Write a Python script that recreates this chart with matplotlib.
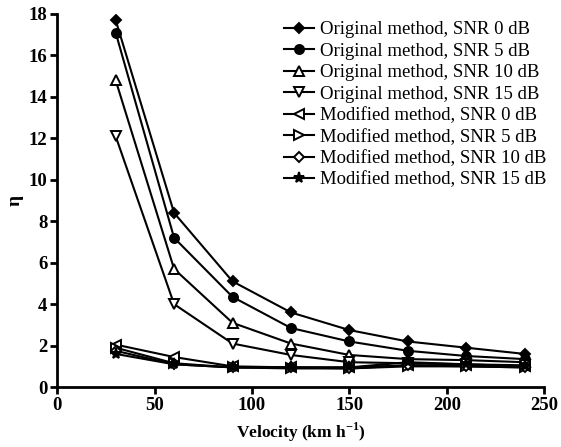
import matplotlib
matplotlib.use('Agg')
import matplotlib.pyplot as plt

plt.rcParams['font.family'] = ['Liberation Serif', 'DejaVu Serif']
plt.rcParams['font.weight'] = 'bold'
plt.rcParams['mathtext.fontset'] = 'custom'
plt.rcParams['mathtext.rm'] = 'Liberation Serif:bold'

velocity = [30, 60, 90, 120, 150, 180, 210, 240]

orig_0 = [17.7, 8.4, 5.1, 3.6, 2.75, 2.2, 1.9, 1.6]
orig_5 = [17.1, 7.2, 4.35, 2.85, 2.2, 1.75, 1.5, 1.35]
orig_10 = [14.8, 5.7, 3.1, 2.1, 1.55, 1.35, 1.3, 1.2]
orig_15 = [12.1, 4.0, 2.1, 1.55, 1.2, 1.15, 1.1, 1.05]
mod_0 = [2.05, 1.45, 1.0, 0.95, 0.95, 1.05, 1.05, 1.0]
mod_5 = [1.9, 1.15, 0.95, 0.9, 0.9, 1.0, 1.0, 0.95]
mod_10 = [1.75, 1.1, 0.95, 0.95, 0.9, 1.05, 1.0, 0.95]
mod_15 = [1.6, 1.1, 0.95, 0.95, 0.95, 1.2, 1.1, 1.0]

labels = [
    'Original method, SNR 0 dB',
    'Original method, SNR 5 dB',
    'Original method, SNR 10 dB',
    'Original method, SNR 15 dB',
    'Modified method, SNR 0 dB',
    'Modified method, SNR 5 dB',
    'Modified method, SNR 10 dB',
    'Modified method, SNR 15 dB',
]
series = [orig_0, orig_5, orig_10, orig_15, mod_0, mod_5, mod_10, mod_15]
# (marker, filled, size)
styles = [
    ('D', True, 5.5), ('o', True, 6.5), ('^', False, 7), ('v', False, 7),
    ('<', False, 7), ('>', False, 7), ('D', False, 5.5), ('*', True, 8),
]

fig = plt.figure(figsize=(5.61, 4.47), dpi=100)
ax = fig.add_axes([0.102, 0.134, 0.868, 0.835])

for vals, lab, (m, filled, ms) in zip(series, labels, styles):
    ax.plot(velocity, vals, color='black', lw=1.5, marker=m, markersize=ms,
            markerfacecolor='black' if filled else 'white',
            markeredgecolor='black', markeredgewidth=1.4, label=lab)

ax.set_xlim(0, 250)
ax.set_ylim(0, 18)
ax.set_xticks([0, 50, 100, 150, 200, 250])
ax.set_yticks(range(0, 19, 2))
for s in ['top', 'right']:
    ax.spines[s].set_visible(False)
for s in ['left', 'bottom']:
    ax.spines[s].set_linewidth(2)
ax.tick_params(direction='out', width=2, length=5, labelsize=13.5, pad=2)
ax.set_xlabel('Velocity (km h$^{-1}$)', fontsize=12.5, fontweight='bold', labelpad=5)
ax.set_ylabel('\u03b7', fontsize=14, fontweight='bold', labelpad=4)

leg = ax.legend(loc='upper right', bbox_to_anchor=(1.02, 1.0), frameon=False,
                prop={'family': 'Liberation Serif', 'weight': 'normal', 'size': 13.5},
                handlelength=1.6, handletextpad=0.3,
                labelspacing=0.23, borderaxespad=0)

plt.savefig('out.png', dpi=100)
plt.close()
